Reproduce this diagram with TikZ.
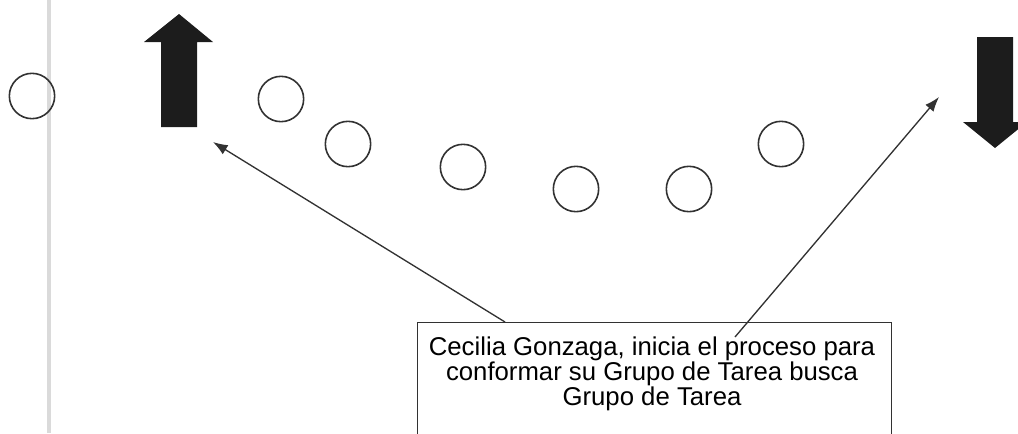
\documentclass[tikz,border=0pt]{standalone}
\usepackage{fontspec}
\setmainfont{Liberation Sans}
\usetikzlibrary{arrows.meta,positioning}

\definecolor{inkgray}{RGB}{50,50,50}
\definecolor{railgray}{RGB}{218,218,218}
\definecolor{blockfill}{RGB}{28,28,28}

\tikzset{every picture/.style={line width=0.75pt}}
\tikzset{
	member/.style={circle, draw=inkgray, line width=1.2pt, minimum size=34pt, inner sep=0pt},
	pointer/.style={draw=inkgray, line width=1pt, -{Latex[length=11pt,width=8pt]}},
	notebox/.style={draw=inkgray, line width=0.9pt, anchor=north west, minimum width=355.5pt, minimum height=120pt, inner sep=0pt},
	notetext/.style={anchor=north, inner sep=0pt, align=center, font=\fontsize{19.3}{18.9}\selectfont}
}

\begin{document}
\begin{tikzpicture}[x=0.75pt,y=0.75pt,yscale=-1,xscale=1]
	\clip (0,0) rectangle (1018,433);
	
	%Straight Lines: rail
	\draw [railgray, line width=3.5pt] (49,0) -- (49,433) ;
	
	%Shape: Circle
	\node [member] (m1) at (32,96) {};
	%Shape: Circle
	\node [member] (m2) at (281,99) {};
	%Shape: Circle
	\node [member] (m3) at (348,144) {};
	%Shape: Circle
	\node [member] (m4) at (463,167) {};
	%Shape: Circle
	\node [member] (m5) at (576,189) {};
	%Shape: Circle
	\node [member] (m6) at (689,189) {};
	%Shape: Circle
	\node [member] (m7) at (781,144) {};
	
	%Shape: Up Arrow
	\fill [blockfill] (161,127) -- (161,42) -- (144,42) -- (179,14) -- (213,42) -- (197,42) -- (197,127) -- cycle ;
	%Shape: Down Arrow
	\fill [blockfill] (977,37) -- (1013,37) -- (1013,122) -- (1027,122) -- (995,148) -- (963,122) -- (977,122) -- cycle ;
	
	%Shape: Rectangle
	\node [notebox] (note) at (417,322) {};
	% Text Node
	\node [notetext] (caption) at (652,336) {Cecilia Gonzaga, inicia el proceso para\\conformar su Grupo de Tarea busca\\Grupo de Tarea};
	
	\coordinate (fromL) at (505,322);
	\coordinate (fromR) at (735,337);
	\coordinate (upTip) at (213,142);
	\coordinate (downTip) at (939,97);
	
	%Straight Lines
	\draw [pointer] (fromL) -- (upTip) ;
	%Straight Lines
	\draw [pointer] (fromR) -- (downTip) ;
	
\end{tikzpicture}
\end{document}
